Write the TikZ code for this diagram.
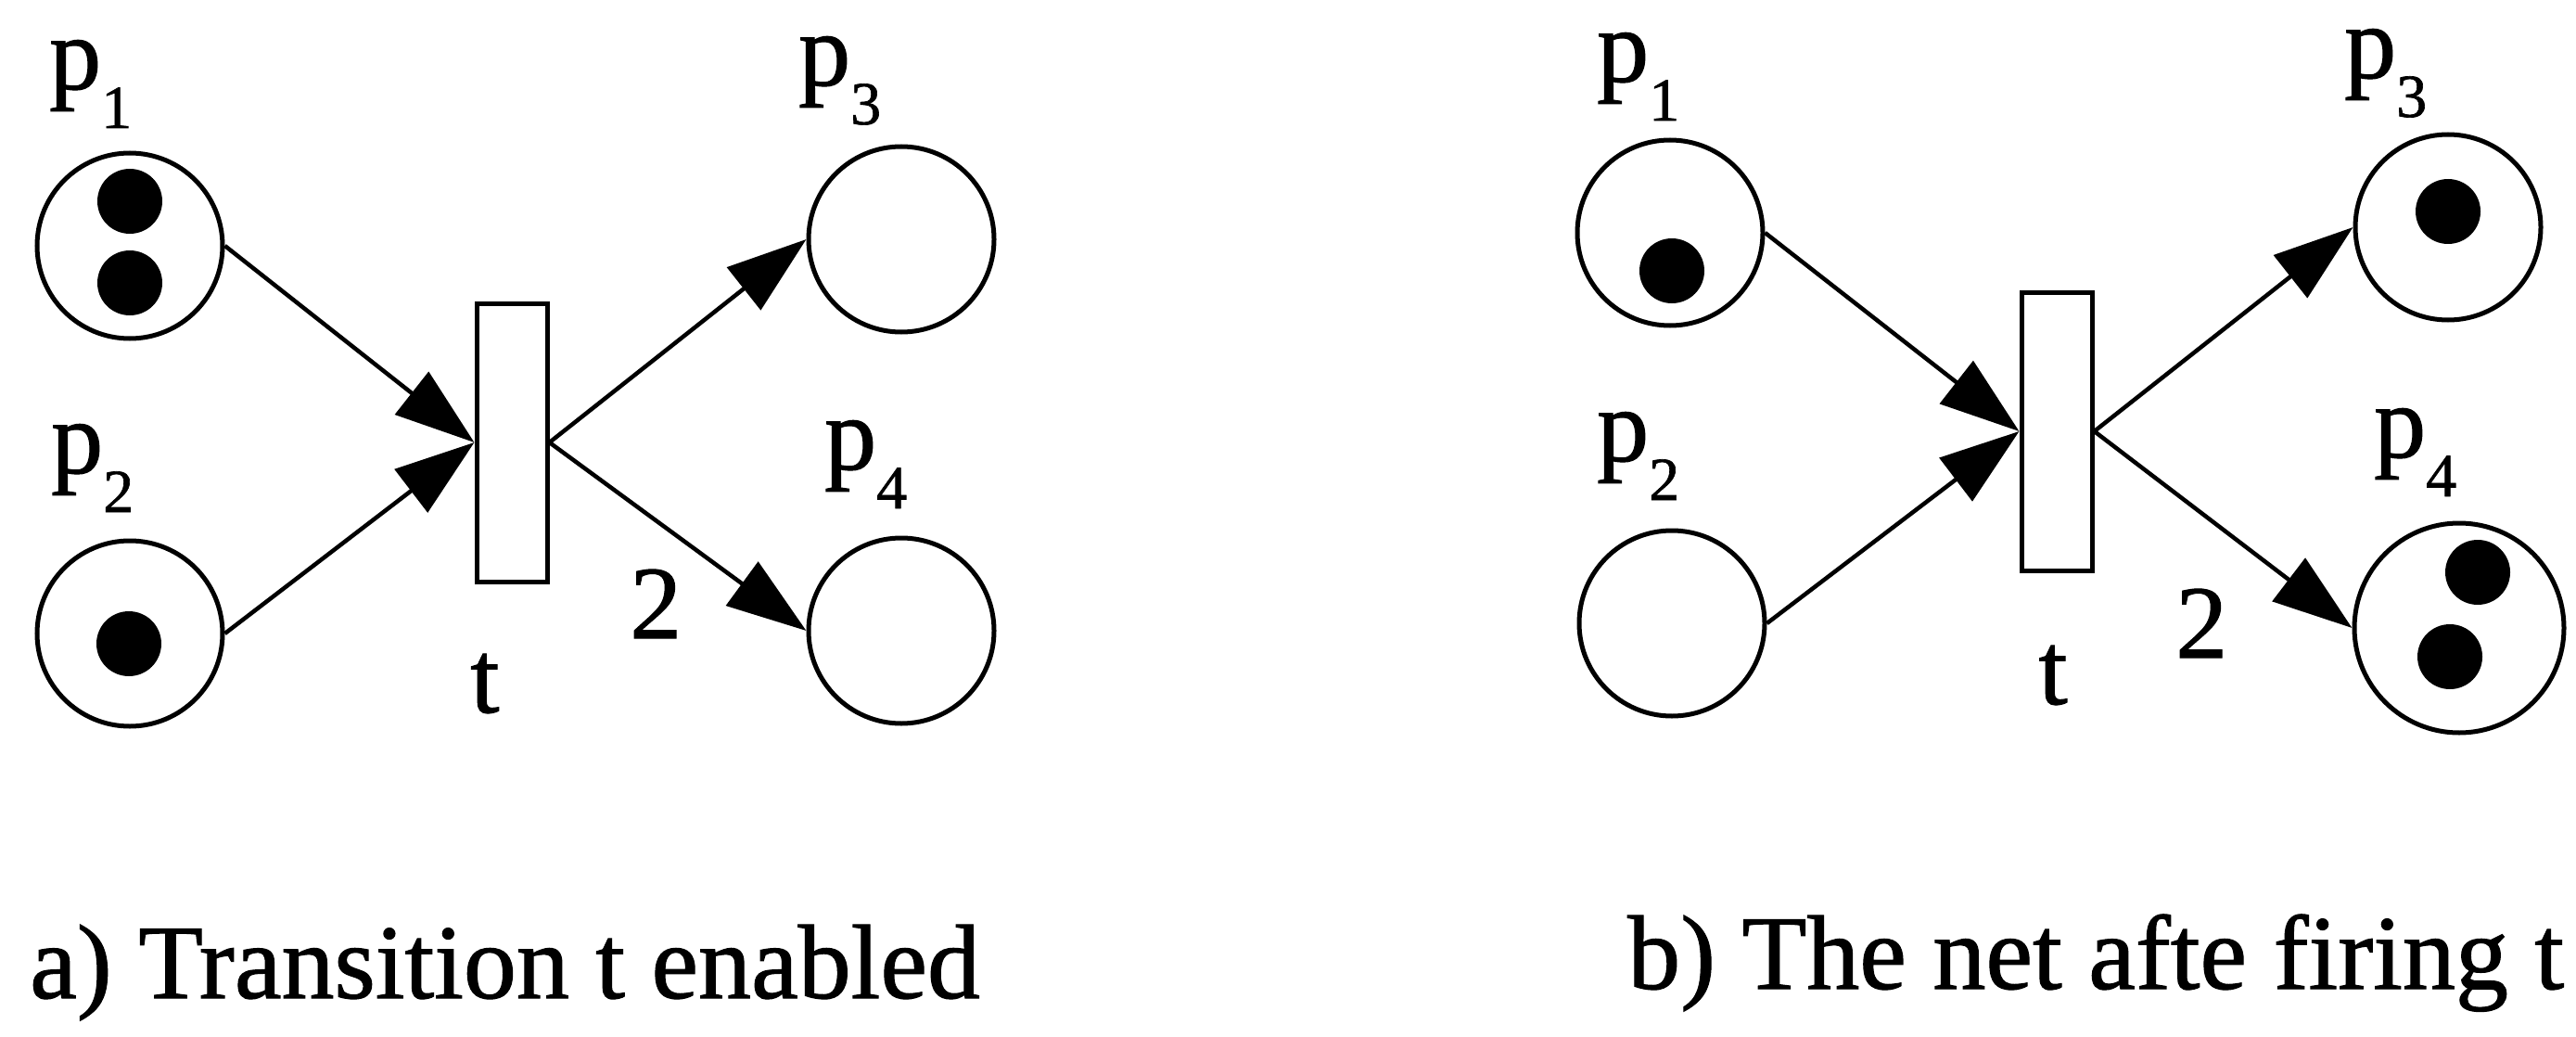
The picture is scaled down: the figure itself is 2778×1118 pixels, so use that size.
\documentclass[tikz,border=0pt]{standalone}
\usepackage{fontspec}
\setmainfont[FakeBold=1]{Liberation Serif}
\usetikzlibrary{arrows.meta}
\newcommand\plab[1]{p\raisebox{-42pt}{\fontsize{66}{70}\selectfont #1}}
\tikzset{
  place/.style={circle, draw, line width=5pt, minimum size=200pt, inner sep=0pt},
  bigplace/.style={place, minimum size=226pt},
  trans/.style={rectangle, draw, line width=5pt, minimum width=76pt, minimum height=300pt, inner sep=0pt},
  tok/.style={circle, fill=black, minimum size=70pt, inner sep=0pt},
  arc/.style={line width=4.5pt, -{Triangle[length=86pt,width=58pt]}},
  lbl/.style={inner sep=0pt, anchor=base west, font=\fontsize{112}{120}\selectfont},
  captxt/.style={inner sep=0pt, anchor=base west, font=\fontsize{114}{120}\selectfont},
}
\begin{document}
\begin{tikzpicture}[x=1pt, y=-1pt]
\useasboundingbox[fill=white] (0,0) rectangle (2778,1118);

% ---------- a) ----------
\node[place] (a1) at (140,265) {};
\node[place] (a2) at (140,683) {};
\node[place] (a3) at (972,258) {};
\node[place] (a4) at (972,680) {};
\node[trans] (at) at (552,477) {};
\node[tok] (a1k1) at (140,217) {};
\node[tok] (a1k2) at (140,305) {};
\node[tok] (a2k1) at (139,694) {};
\draw[arc] (a1.east) -- (at.west);
\draw[arc] (a2.east) -- (at.west);
\draw[arc] (at.east) -- (a3.west);
\draw[arc] (at.east) -- (a4.west);
\node[lbl] (la1) at (53,96) {\plab{1}};
\node[lbl] (la2) at (55,510) {\plab{2}};
\node[lbl] (la3) at (861,92) {\plab{3}};
\node[lbl] (la4) at (889,506) {\plab{4}};
\node[lbl, anchor=base] (lat) at (523,768) {t};
\node[lbl] (la2w) at (679,688) {2};
\node[captxt] (capa) at (32,1076) {a) Transition t enabled};

% ---------- b) ----------
\node[place] (b1) at (1801,251) {};
\node[place] (b2) at (1803,672) {};
\node[place] (b3) at (2640,245) {};
\node[bigplace] (b4) at (2652,677) {};
\node[trans] (bt) at (2218,465) {};
\node[tok] (b1k1) at (1803,292) {};
\node[tok] (b3k1) at (2640,228) {};
\node[tok] (b4k1) at (2672,617) {};
\node[tok] (b4k2) at (2642,708) {};
\draw[arc] (b1.east) -- (bt.west);
\draw[arc] (b2.east) -- (bt.west);
\draw[arc] (bt.east) -- (b3.west);
\draw[arc] (bt.east) -- (b4.west);
\node[lbl] (lb1) at (1722,88) {\plab{1}};
\node[lbl] (lb2) at (1722,497) {\plab{2}};
\node[lbl] (lb3) at (2528,84) {\plab{3}};
\node[lbl] (lb4) at (2560,493) {\plab{4}};
\node[lbl, anchor=base] (lbt) at (2214,759) {t};
\node[lbl] (lb2w) at (2346,709) {2};
\node[captxt] (capb) at (1755,1066) {b) The net afte firing t};
\end{tikzpicture}
\end{document}
